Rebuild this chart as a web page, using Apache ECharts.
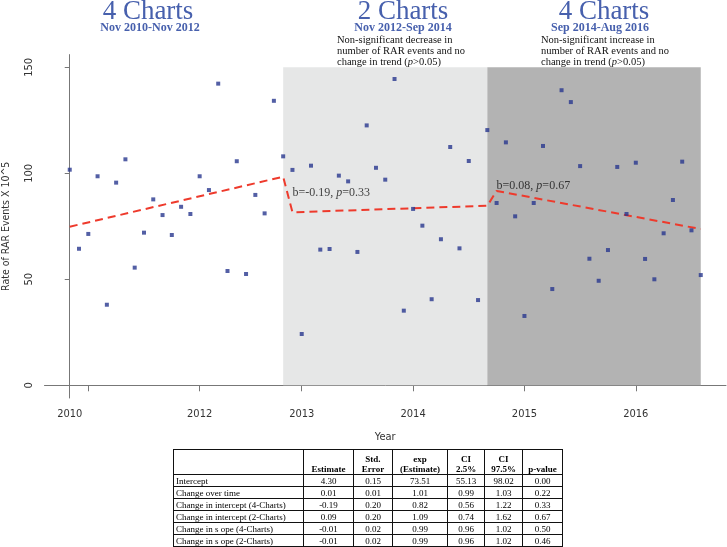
<!DOCTYPE html>
<html>
<head>
<meta charset="utf-8">
<script src="https://cdn.jsdelivr.net/npm/echarts@6/dist/echarts.min.js"></script>
<style>
html,body{margin:0;padding:0;background:#fff;}
#wrap{position:relative;width:727px;height:547px;overflow:hidden;background:#fff;}
#chart{position:absolute;left:0;top:0;width:727px;height:547px;}
#tbl{position:absolute;left:173px;top:449px;border-collapse:collapse;border:1.5px solid #111;
  font-family:'Liberation Serif','Times New Roman',serif;font-size:9px;color:#000;table-layout:fixed;}
#tbl td,#tbl th{border:1px solid #111;padding:0 2px;height:11px;line-height:10px;text-align:center;white-space:nowrap;overflow:hidden;}
#tbl th{font-weight:bold;vertical-align:bottom;height:24px;}
#tbl td.lab{text-align:left;}
</style>
</head>
<body>
<div id="wrap">
<div id="chart"></div>
<table id="tbl"></table>
</div>
<script>
// ---- data ----
const rates = [101.7, 64.4, 71.4, 98.6, 38.0, 95.6, 106.6, 55.5, 72.0, 87.7, 80.3, 70.9, 84.2, 80.8, 98.6, 92.1, 142.3, 53.9, 105.7, 52.5, 89.8, 81.1, 134.2, 108.0, 101.6, 24.2, 103.6, 64.0, 64.3, 98.9, 96.2, 62.9, 122.6, 102.6, 97.0, 144.5, 35.2, 83.2, 75.3, 40.6, 68.9, 112.4, 64.6, 105.8, 40.2, 120.4, 86.0, 114.6, 79.7, 32.7, 86.0, 112.9, 45.4, 139.2, 133.6, 103.4, 59.7, 49.3, 63.8, 103.0, 80.8, 105.0, 59.6, 50.0, 71.7, 87.4, 105.5, 73.1, 52.0];
const fitMonths = [0, 23, 24, 45, 46, 68];
const fitValues = [74.8, 98.4, 81.6, 84.7, 91.7, 73.7];
const periodStart = [23, 45];
const periodEnd = [45, 68];
const periodColors = ['#e6e7e7', '#b3b3b3'];
const xTickPos = [0, 2, 14, 25, 37, 49, 61];
const xTickLabels = ['2010', '', '2012', '2013', '2014', '2015', '2016'];
const yTicks = [0, 50, 100, 150];
const slopeLabelPos = [[24, 90.8], [46, 94.3]];
const slopeLabelText = [['b=-0.19, ', '=0.33'], ['b=0.08, ', '=0.67']];
const headTitles = ['4 Charts', '2 Charts', '4 Charts'];
const headSubs = ['Nov 2010-Nov 2012', 'Nov 2012-Sep 2014', 'Sep 2014-Aug 2016'];
const notes = ['Non-significant decrease in\nnumber of RAR events and no\nchange in trend ({i|p}>0.05)',
               'Non-significant increase in\nnumber of RAR events and no\nchange in trend ({i|p}>0.05)'];
const tableHeaders = ['', 'Estimate', 'Std.<br>Error', 'exp<br>(Estimate)', 'CI<br>2.5%', 'CI<br>97.5%', 'p-value'];
const tableRowLabels = ['Intercept', 'Change over time', 'Change in intercept (4-Charts)', 'Change in intercept (2-Charts)', 'Change in s ope (4-Charts)', 'Change in s ope (2-Charts)'];
const tableValues = [
  ['4.30', '0.15', '73.51', '55.13', '98.02', '0.00'],
  ['0.01', '0.01', '1.01', '0.99', '1.03', '0.22'],
  ['-0.19', '0.20', '0.82', '0.56', '1.22', '0.33'],
  ['0.09', '0.20', '1.09', '0.74', '1.62', '0.67'],
  ['-0.01', '0.02', '0.99', '0.96', '1.02', '0.50'],
  ['-0.01', '0.02', '0.99', '0.96', '1.02', '0.46']
];
const colWidths = [130, 50, 39, 55, 37, 38, 40];

// ---- table ----
const tbl = document.getElementById('tbl');
let html = '<colgroup>' + colWidths.map(w => '<col style="width:' + w + 'px">').join('') + '</colgroup>';
html += '<tr>' + tableHeaders.map(h => '<th>' + h + '</th>').join('') + '</tr>';
tableRowLabels.forEach((lab, r) => {
  html += '<tr><td class="lab">' + lab + '</td>' + tableValues[r].map(v => '<td>' + v + '</td>').join('') + '</tr>';
});
tbl.innerHTML = html;

// ---- chart ----
const sansFont = "'Liberation Sans Narrow','DejaVu Sans Condensed','Liberation Sans',Arial,sans-serif";
const serifFont = "'Liberation Serif','Times New Roman',serif";
const blue = '#4760ad';

const chart = echarts.init(document.getElementById('chart'), null, {renderer: 'canvas'});

const graphics = [];
const titleX = [148, 403, 604];
const subX = [150, 403, 600];
headTitles.forEach((t, i) => {
  graphics.push({type: 'text', x: titleX[i], y: 12,
    style: {text: t, font: '27px ' + serifFont, fill: blue, align: 'center', verticalAlign: 'middle'}});
  graphics.push({type: 'text', x: subX[i], y: 27.5,
    style: {text: headSubs[i], font: 'bold 12px ' + serifFont, fill: blue, align: 'center', verticalAlign: 'middle'}});
});
const noteX = [337, 541];
notes.forEach((n, i) => {
  graphics.push({type: 'text', x: noteX[i], y: 34.5,
    style: {text: n, font: '10.5px ' + serifFont, fill: '#111', align: 'left', verticalAlign: 'top', lineHeight: 11,
      rich: {i: {fontStyle: 'italic', fontSize: 10.5, fontFamily: serifFont, fill: '#111'}}}});
});

const option = {
  animation: false,
  backgroundColor: '#fff',
  grid: {left: 44.5, right: 1, top: 54.6, bottom: 149, containLabel: false, outerBoundsMode: 'none'},
  xAxis: {
    type: 'value', min: -2.72, max: 70.72,
    name: 'Year', nameLocation: 'middle', nameGap: 34,
    nameTextStyle: {fontFamily: sansFont, fontSize: 11, color: '#333'},
    axisLine: {show: true, lineStyle: {color: '#777', width: 1}},
    axisTick: {show: true, length: 6, customValues: xTickPos, lineStyle: {color: '#777'}},
    axisLabel: {show: true, customValues: xTickPos, margin: 11, fontFamily: sansFont, fontSize: 11, color: '#333',
      formatter: v => xTickLabels[xTickPos.indexOf(v)] || ''},
    splitLine: {show: false}
  },
  yAxis: {
    type: 'value', min: -6, max: 156,
    name: 'Rate of RAR Events X 10^5', nameLocation: 'middle', nameGap: 33,
    nameTextStyle: {fontFamily: sansFont, fontSize: 10.5, color: '#333'},
    axisLine: {show: true, lineStyle: {color: '#777', width: 1}},
    axisTick: {show: true, length: 5, customValues: yTicks, lineStyle: {color: '#777'}},
    axisLabel: {show: true, customValues: yTicks, rotate: 90, margin: 10, fontFamily: sansFont, fontSize: 11, color: '#333'},
    splitLine: {show: false}
  },
  graphic: graphics,
  series: [
    {
      type: 'line', data: [], silent: true, z: 0,
      markArea: {silent: true, data: periodStart.map((s, i) => [
        {xAxis: s, yAxis: 0, itemStyle: {color: periodColors[i]}},
        {xAxis: periodEnd[i], yAxis: 150}
      ])}
    },
    {
      type: 'line', z: 3, silent: true, showSymbol: false,
      data: fitMonths.map((m, i) => [m, fitValues[i]]),
      lineStyle: {color: '#ee3a2c', width: 2, type: [8, 5]}
    },
    {
      type: 'scatter', z: 4, silent: true, symbol: 'rect', symbolSize: 4,
      itemStyle: {color: '#28378f'},
      data: rates.map((v, i) => [i, v])
    },
    {
      type: 'scatter', z: 5, silent: true, symbolSize: 0,
      data: slopeLabelPos,
      label: {show: true, position: 'right', distance: 0,
        formatter: p => slopeLabelText[p.dataIndex][0] + '{i|p}' + slopeLabelText[p.dataIndex][1],
        fontFamily: serifFont, fontSize: 12, color: '#111',
        rich: {i: {fontStyle: 'italic', fontFamily: serifFont, fontSize: 12, color: '#111'}}}
    }
  ]
};
chart.setOption(option);
</script>
</body>
</html>
